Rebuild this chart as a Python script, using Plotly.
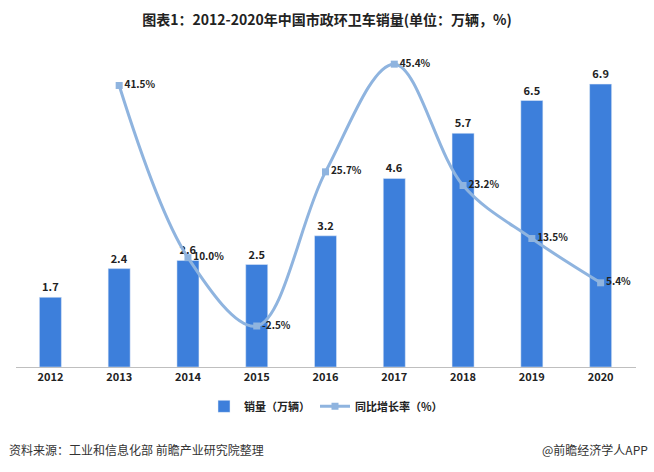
import plotly.graph_objects as go

years = ["2012", "2013", "2014", "2015", "2016", "2017", "2018", "2019", "2020"]
sales = [1.7, 2.4, 2.6, 2.5, 3.2, 4.6, 5.7, 6.5, 6.9]
growth_years = ["2013", "2014", "2015", "2016", "2017", "2018", "2019", "2020"]
growth = [41.5, 10.0, -2.5, 25.7, 45.4, 23.2, 13.5, 5.4]

FONT = "Noto Sans CJK SC"

fig = go.Figure()
fig.add_trace(go.Bar(
    x=years, y=sales, name="销量（万辆）",
    marker=dict(color="#3d7fdb"), width=0.32,
    text=[f"{v:.1f}" for v in sales], textposition="outside",
    textfont=dict(size=11, color="#222222", family=FONT, weight="bold"),
    cliponaxis=False,
))
fig.add_trace(go.Scatter(
    x=growth_years, y=growth, name="同比增长率（%）", yaxis="y2",
    mode="lines+markers+text",
    line=dict(color="#8fb4df", width=3, shape="spline", smoothing=1.0),
    marker=dict(symbol="square", size=7, color="#8fb4df"),
    text=[f"{v:.1f}%" for v in growth], textposition="middle right",
    textfont=dict(size=10, color="#222222", family=FONT, weight="bold"),
    cliponaxis=False,
))

fig.update_layout(
    width=654, height=472,
    margin=dict(l=16, r=18, t=39, b=105),
    paper_bgcolor="white", plot_bgcolor="white",
    font=dict(family=FONT, size=11, color="#222222"),
    title=dict(text="<b>图表1：2012-2020年中国市政环卫车销量(单位：万辆，%)</b>",
               x=0.5, xanchor="center", y=0.957, yanchor="middle",
               font=dict(size=14, color="#222222", family=FONT)),
    xaxis=dict(showline=True, linecolor="#bfbfbf", linewidth=1, ticks="",
               tickfont=dict(size=11, color="#222222", family=FONT, weight="bold"),
               showgrid=False),
    yaxis=dict(range=[0, 8], visible=False, showgrid=False),
    yaxis2=dict(range=[-10, 50], overlaying="y", side="right", visible=False, showgrid=False),
    legend=dict(orientation="h", x=0.5, xanchor="center", y=-0.12, yanchor="middle",
                font=dict(size=11, color="#222222", family=FONT, weight="bold")),
    showlegend=True,
    bargap=0.5,
)
fig.add_annotation(text="资料来源：工业和信息化部 前瞻产业研究院整理", xref="paper", yref="paper",
                   x=-0.015, xanchor="left", y=-0.25, yanchor="middle", showarrow=False,
                   font=dict(size=12, color="#333333", family=FONT))
fig.add_annotation(text="@前瞻经济学人APP", xref="paper", yref="paper",
                   x=1.022, xanchor="right", y=-0.25, yanchor="middle", showarrow=False,
                   font=dict(size=12, color="#333333", family=FONT))

fig.write_html("out.html", config={"displayModeBar": False},
               post_script="document.body.style.margin='0';")
